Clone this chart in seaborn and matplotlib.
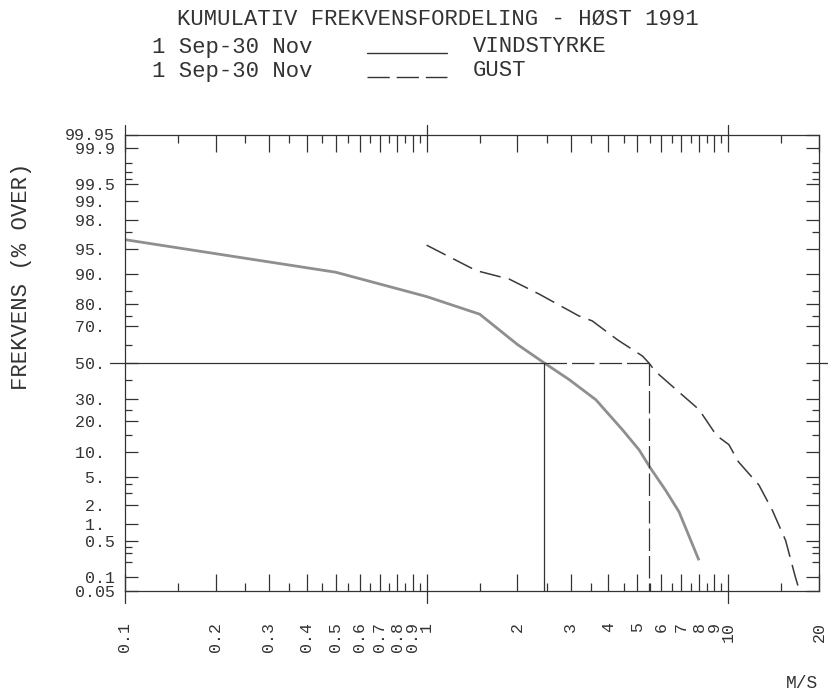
import numpy as np
import matplotlib
matplotlib.use("Agg")
import matplotlib.pyplot as plt
import matplotlib.ticker as mticker
import matplotlib.transforms as mtransforms
from matplotlib.lines import Line2D
import pandas as pd
import seaborn as sns
from statistics import NormalDist

# ---------------- data ----------------
vind_speed = [0.1, 0.5, 1.0, 1.5, 2.0, 2.45, 2.97, 3.64, 4.46, 5.06, 5.53, 6.2, 6.87, 8.0]
vind_pct = [96.2, 90.4, 83.0, 75.8, 60.4, 50.0, 40.4, 29.7, 16.7, 10.5, 6.4, 3.3, 1.58, 0.22]

gust_speed = [1.0, 1.46, 1.88, 2.36, 3.2, 3.54, 4.29, 4.81, 5.2, 5.45, 5.74, 6.53, 8.0,
              9.15, 10.05, 10.8, 12.64, 14.0, 15.5, 16.7, 17.1]
gust_pct = [95.5, 90.8, 88.6, 83.9, 75.0, 72.7, 63.0, 57.6, 53.8, 50.0, 45.0, 36.7, 25.0,
            14.7, 11.9, 7.7, 3.9, 1.68, 0.52, 0.1, 0.06]

median_level = 50.0
median_vind = 2.45
median_gust = 5.45

x_ticks = [0.1, 0.2, 0.3, 0.4, 0.5, 0.6, 0.7, 0.8, 0.9, 1, 2, 3, 4, 5, 6, 7, 8, 9, 10, 20]
x_tick_labels = ["0.1", "0.2", "0.3", "0.4", "0.5", "0.6", "0.7", "0.8", "0.9", "1",
                 "2", "3", "4", "5", "6", "7", "8", "9", "10", "20"]
x_minor = [0.15, 0.25, 0.35, 0.45, 0.55, 0.65, 0.75, 0.85, 0.95,
           1.5, 2.5, 3.5, 4.5, 5.5, 6.5, 7.5, 8.5, 9.5, 15]
x_cross = [0.1, 1, 10]

y_ticks = [99.95, 99.9, 99.5, 99, 98, 95, 90, 80, 70, 50, 30, 20, 10, 5, 2, 1, 0.5, 0.1, 0.05]
y_tick_labels = ["99.95", "99.9", "99.5", "99.", "98.", "95.", "90.", "80.", "70.",
                 "50.", "30.", "20.", "10.", "5.", "2.", "1.", "0.5", "0.1", "0.05"]
y_minor = [99.8, 99.7, 99.6, 97, 85, 75, 60, 40, 25, 15, 4, 3, 0.4, 0.3, 0.2]

title = "KUMULATIV FREKVENSFORDELING - HØST 1991"
period = "1 Sep-30 Nov"
name_vind = "VINDSTYRKE"
name_gust = "GUST"
y_label = "FREKVENS (% OVER)"
x_label = "M/S"

# ---------------- style ----------------
sns.set_style("ticks")
plt.rcParams["font.family"] = ["Liberation Mono", "DejaVu Sans"]
ink = "#333333"
plt.rcParams["text.color"] = ink
plt.rcParams["xtick.color"] = ink
plt.rcParams["ytick.color"] = ink

W, H = 829, 691
fig = plt.figure(figsize=(W / 100, H / 100), dpi=100)
L, R, T, B = 125, 819, 134.5, 591
ax = fig.add_axes([L / W, (H - B) / H, (R - L) / W, (B - T) / H])

_nd = NormalDist()
_inv = np.vectorize(lambda q: _nd.inv_cdf(q) if 0 < q < 1 else np.nan, otypes=[float])
_cdf = np.vectorize(lambda z: _nd.cdf(z), otypes=[float])


def fwd(p):
    p = np.asarray(p, dtype=float)
    return _inv(np.clip(p / 100.0, 1e-9, 1 - 1e-9))


def inv(z):
    return _cdf(np.asarray(z, dtype=float)) * 100.0


ax.set_xscale("log")
ax.set_yscale("function", functions=(fwd, inv))
ax.set_xlim(0.1, 20)
ax.set_ylim(0.05, 99.95)

df_v = pd.DataFrame({"speed": vind_speed, "pct": vind_pct})
df_g = pd.DataFrame({"speed": gust_speed, "pct": gust_pct})

sns.lineplot(data=df_v, x="speed", y="pct", ax=ax, sort=False, estimator=None,
             color="#8f8f8f", lw=2.0, solid_capstyle="butt", solid_joinstyle="round")
sns.lineplot(data=df_g, x="speed", y="pct", ax=ax, sort=False, estimator=None,
             color="#3a3a3a", lw=1.1, linestyle=(0, (14, 5.5)))

# median guide lines
ymin = ax.get_ylim()[0]
ax.plot([x_ticks[0], median_vind], [median_level, median_level], color=ink, lw=0.9)
ax.plot([median_vind, median_vind], [median_level, ymin], color=ink, lw=0.9)
ax.plot([median_vind, median_gust], [median_level, median_level], color=ink, lw=0.9,
        linestyle=(0, (18, 4)))
ax.plot([median_gust, median_gust], [median_level, ymin], color=ink, lw=0.9,
        linestyle=(0, (18, 4)))

# axis ticks
ax.xaxis.set_major_locator(mticker.FixedLocator(x_ticks))
ax.xaxis.set_major_formatter(mticker.FixedFormatter(x_tick_labels))
ax.xaxis.set_minor_locator(mticker.FixedLocator(x_minor))
ax.xaxis.set_minor_formatter(mticker.NullFormatter())
ax.yaxis.set_major_locator(mticker.FixedLocator(y_ticks))
ax.yaxis.set_minor_locator(mticker.FixedLocator(y_minor))
ax.yaxis.set_minor_formatter(mticker.NullFormatter())


def fmt_y(s):
    if s.endswith("."):
        s = s + " "
    return s.rjust(5)


ax.yaxis.set_major_formatter(mticker.FixedFormatter([fmt_y(s) for s in y_tick_labels]))

ax.tick_params(axis="both", which="both", direction="in", top=True, right=True,
               width=0.9, colors=ink)
ax.tick_params(axis="x", which="major", length=12.5, pad=22, labelsize=12,
               labelrotation=90)
ax.tick_params(axis="x", which="minor", length=6)
ax.tick_params(axis="y", which="major", length=9.5, pad=43, labelsize=12)
ax.tick_params(axis="y", which="minor", length=5)
for lab in ax.get_xticklabels():
    lab.set_va("top")
    lab.set_ha("center")
for lab in ax.get_yticklabels():
    lab.set_ha("left")

for s in ax.spines.values():
    s.set_visible(True)
    s.set_linewidth(0.9)
    s.set_color(ink)

# crossing (outward) parts of the main ticks
tx = mtransforms.blended_transform_factory(ax.transData, ax.transAxes)
hpx = B - T
for xv in x_cross:
    ax.plot([xv, xv], [-12 / hpx, 0], transform=tx, color=ink, lw=0.9, clip_on=False)
    ax.plot([xv, xv], [1, 1 + 10 / hpx], transform=tx, color=ink, lw=0.9, clip_on=False)
ty = mtransforms.blended_transform_factory(ax.transAxes, ax.transData)
wpx = R - L
ax.plot([-15 / wpx, 0], [median_level, median_level], transform=ty, color=ink, lw=0.9,
        clip_on=False)
ax.plot([1, 1 + 12 / wpx], [median_level, median_level], transform=ty, color=ink, lw=0.9,
        clip_on=False)

ax.set_xlabel("")
ax.set_ylabel("")

# ---------------- header ----------------
fs_head = 16
fig.text(438 / W, 1 - 19 / H, title, ha="center", va="center", fontsize=fs_head)
for row_y, name, ls in [(47, name_vind, "-"), (71, name_gust, (0, (16, 5)))]:
    fig.text(232 / W, 1 - row_y / H, period, ha="center", va="center", fontsize=fs_head)
    fig.add_artist(Line2D([367 / W, 447 / W], [1 - (row_y + 6) / H] * 2,
                          transform=fig.transFigure, color=ink, lw=1.0, linestyle=ls))
    fig.text(473 / W, 1 - row_y / H, name, ha="left", va="center", fontsize=fs_head)

fig.text(22 / W, 1 - 276 / H, y_label, rotation=90, ha="center", va="center",
         fontsize=fs_head)
fig.text(818 / W, 1 - 683 / H, x_label, ha="right", va="center", fontsize=13)

fig.savefig("out.png", dpi=100)
